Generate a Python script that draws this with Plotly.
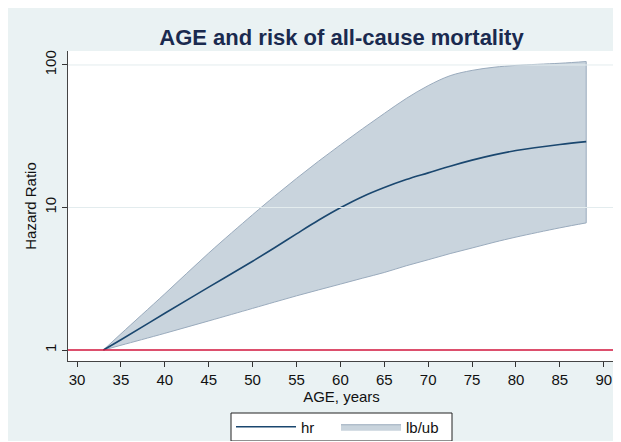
import plotly.graph_objects as go

# ---- data ----
age = [33, 35, 40, 45, 50, 52.5, 55, 57.5, 60, 62.5, 65, 67.5, 70, 72.5, 75, 77.5, 80, 85, 88]
hr = [1.0, 1.18, 1.81, 2.76, 4.2, 5.22, 6.53, 8.13, 9.95, 11.9, 13.8, 15.7, 17.5, 19.5, 21.5, 23.4,
      25.1, 27.7, 29.0]
lb = [1.0, 1.08, 1.31, 1.60, 1.96, 2.17, 2.40, 2.64, 2.90, 3.19, 3.50, 3.90, 4.30, 4.75, 5.20, 5.70,
      6.20, 7.20, 7.80]
ub = [1.0, 1.30, 2.48, 4.79, 8.9, 12.0, 16.0, 21.1, 27.5, 35.6, 45.7, 58.2, 71.6, 84.1, 91.6, 96.4,
      99.3, 102.8, 105.7]

x_ticks = list(range(30, 95, 5))
y_ticks = [1, 10, 100]
y_ticklabels = ["1", "10", "100"]
ref_value = 1

TITLE = "AGE and risk of all-cause mortality"
XTITLE = "AGE, years"
YTITLE = "Hazard Ratio"

BG = "#eaf2f3"
NAVY = "#1a476f"
FILL = "rgba(26,71,111,0.235)"
EDGE = "#9aabbd"
FONT = "Liberation Sans, Arial, sans-serif"

W, H = 610, 433  # page adds an 8px body margin; the white strip round the grey region comes from it
ML, MR, MT, MB = 60, 3, 43, 80
PW, PH = W - ML - MR, H - MT - MB


def px_x(p):
    return (p - ML) / PW


def px_y(p):
    return (H - MB - p) / PH


fig = go.Figure()

fig.add_trace(go.Scatter(x=age, y=ub, mode="lines", line=dict(color=EDGE, width=1, shape="spline"),
                         showlegend=False, hoverinfo="skip"))
fig.add_trace(go.Scatter(x=age, y=lb, mode="lines", name="lb/ub", fill="tonexty", fillcolor=FILL,
                         line=dict(color=EDGE, width=1, shape="spline"), legendrank=2))
fig.add_trace(go.Scatter(x=[age[-1], age[-1]], y=[lb[-1], ub[-1]], mode="lines",
                         line=dict(color=EDGE, width=1), showlegend=False, hoverinfo="skip"))
fig.add_trace(go.Scatter(x=age, y=hr, mode="lines", name="hr",
                         line=dict(color=NAVY, width=1.6, shape="spline"), legendrank=1))

shapes = []
for t in y_ticks[1:]:
    shapes.append(dict(type="line", xref="paper", yref="y", x0=0, x1=1, y0=t, y1=t,
                       line=dict(color="#e3ecee", width=1), layer="above"))
shapes.append(dict(type="line", xref="paper", yref="y", x0=0, x1=1, y0=ref_value, y1=ref_value,
                   line=dict(color="#d2143c", width=1.5), layer="above"))
# legend frame
shapes.append(dict(type="rect", xref="paper", yref="paper", x0=px_x(223), x1=px_x(444),
                   y0=px_y(433), y1=px_y(405), fillcolor="white",
                   line=dict(color="#222222", width=1), layer="below"))

fig.update_layout(
    width=W, height=H,
    margin=dict(l=ML, r=MR, t=MT, b=MB, autoexpand=False),
    paper_bgcolor=BG,
    plot_bgcolor="white",
    font=dict(family=FONT, size=15, color="#111111"),
    title=dict(text=TITLE, x=0.5, xref="paper", xanchor="center", y=1 - 29 / H, yref="container",
               yanchor="middle", font=dict(family=FONT, size=22, color="#1a2a4f", weight="bold")),
    shapes=shapes,
    showlegend=True,
    legend=dict(orientation="h", x=px_x(223), xanchor="left", y=1 - 419 / H, yref="container",
                yanchor="middle", bgcolor="rgba(0,0,0,0)", borderwidth=0,
                font=dict(family=FONT, size=15, color="#111111"), itemwidth=60, entrywidth=30,
                traceorder="normal"),
)

fig.update_xaxes(range=[28.97, 91.28], tickvals=x_ticks, ticks="outside", ticklen=5, tickcolor="#333333",
                 showline=True, linecolor="#444444", linewidth=1, showgrid=False, zeroline=False,
                 automargin=False,
                 tickfont=dict(size=15), title=dict(text=XTITLE, standoff=3, font=dict(size=15)))
fig.update_yaxes(type="log", range=[-0.077, 2.098], tickvals=y_ticks, ticktext=y_ticklabels,
                 ticks="outside", ticklen=5, tickcolor="#333333", tickangle=-90,
                 showline=True, linecolor="#444444", linewidth=1, showgrid=False, zeroline=False,
                 automargin=False,
                 tickfont=dict(size=15), title=dict(text=YTITLE, standoff=1, font=dict(size=15)))

fig.write_html("out.html")
